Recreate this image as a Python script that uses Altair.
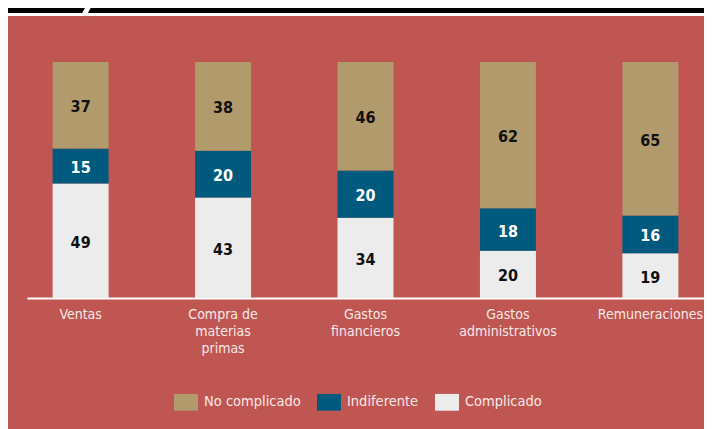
import altair as alt
import pandas as pd

categories = ["Ventas", "Compra de\nmaterias\nprimas", "Gastos\nfinancieros",
              "Gastos\nadministrativos", "Remuneraciones"]
series = ["No complicado", "Indiferente", "Complicado"]
no_complicado = [37, 38, 46, 62, 65]
indiferente = [15, 20, 20, 18, 16]
complicado = [49, 43, 34, 20, 19]

rows = []
for i, c in enumerate(categories):
    for s, vals, o in [("Complicado", complicado, 0), ("Indiferente", indiferente, 1),
                       ("No complicado", no_complicado, 2)]:
        rows.append({"cat": c, "series": s, "value": vals[i], "ord": o})
df = pd.DataFrame(rows)

RED = "#c05652"
TAN = "#b19a6c"
BLUE = "#005a7e"
LIGHT = "#ececec"
TXT = "#f5e8e6"
FONT = "DejaVu Sans Condensed, sans-serif"

one = alt.Data(values=[{"a": 1}])
black_band = alt.Chart(one).mark_rect(color="black").encode(
    x=alt.value(-19), x2=alt.value(680), y=alt.value(-54), y2=alt.value(-49))
white_gap = alt.Chart(one).mark_rect(color="white").encode(
    x=alt.value(-19), x2=alt.value(680), y=alt.value(-49), y2=alt.value(-46))
slash = alt.Chart(one).mark_rule(color="white", strokeWidth=5).encode(
    x=alt.value(57), x2=alt.value(65), y=alt.value(-47), y2=alt.value(-62))

base = alt.Chart(df).transform_stack(
    stack="value", as_=["y0", "y1"], groupby=["cat"],
    sort=[alt.SortField("ord", order="ascending")], offset="normalize"
).transform_calculate(mid="(datum.y0 + datum.y1) / 2")

xenc = alt.X("cat:N", sort=categories, title=None,
             scale=alt.Scale(paddingInner=0.607, paddingOuter=0.18),
             axis=alt.Axis(labelExpr="split(datum.label, '\\n')", labelAngle=0,
                           labelColor=TXT, labelFont=FONT, labelFontSize=14,
                           labelLineHeight=17, labelPadding=9, labelBaseline="top",
                           domainColor="white", domainWidth=2, ticks=False,
                           grid=False))

bars = base.mark_bar().encode(
    x=xenc,
    y=alt.Y("y0:Q", axis=None, scale=alt.Scale(domain=[0, 1])),
    y2="y1:Q",
    color=alt.Color("series:N", sort=series,
                    scale=alt.Scale(domain=series, range=[TAN, BLUE, LIGHT]),
                    legend=alt.Legend(title=None, orient="none", direction="horizontal",
                                      legendX=147, legendY=328,
                                      symbolType="M-1,-0.7H1V0.7H-1Z", symbolSize=576,
                                      symbolStrokeWidth=0, symbolOpacity=1,
                                      labelColor=TXT, labelFont=FONT, labelFontSize=14.5,
                                      labelOffset=6, columnPadding=16)),
)

labels = base.mark_text(font=FONT, fontSize=16, fontWeight="bold", dy=2).encode(
    x=alt.X("cat:N", sort=categories),
    y=alt.Y("mid:Q"),
    text=alt.Text("value:Q"),
    color=alt.condition("datum.series == 'Indiferente'", alt.value("white"), alt.value("#111111")),
)

chart = alt.layer(black_band, white_gap, slash, bars, labels).properties(
    width=677, height=236,
    padding={"left": 19, "top": 54, "right": 0, "bottom": 131},
    autosize=alt.AutoSizeParams(type="none"),
    background=RED,
).configure_view(stroke=None)

chart.save("out.html", embed_options={"renderer": "svg", "actions": False})
